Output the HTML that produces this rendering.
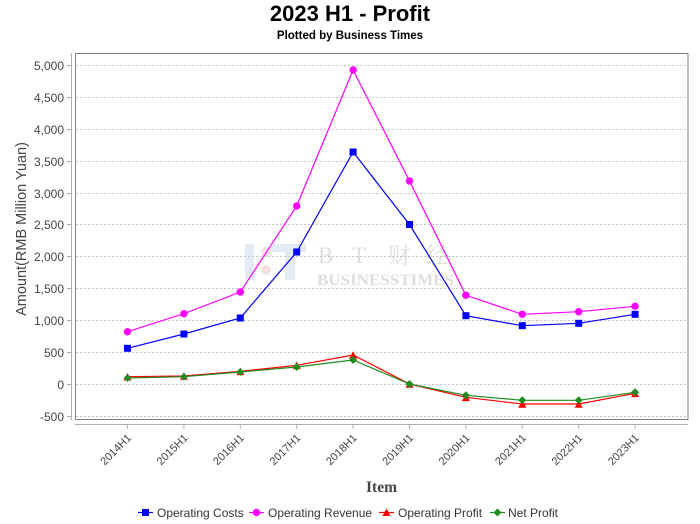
<!DOCTYPE html>
<html><head><meta charset="utf-8"><style>
html,body{margin:0;padding:0;background:#fff;}
svg{display:block;}
</style></head><body>
<svg width="700" height="524" viewBox="0 0 700 524" xmlns="http://www.w3.org/2000/svg">
<rect x="0" y="0" width="700" height="524" fill="#fff"/>
<!-- titles -->
<text x="350" y="21" text-anchor="middle" font-family="Liberation Sans, sans-serif" font-weight="bold" font-size="22" fill="#000">2023 H1 - Profit</text>
<text x="350" y="39" text-anchor="middle" font-family="Liberation Sans, sans-serif" font-weight="bold" font-size="11.5" fill="#000">Plotted by Business Times</text>

<!-- watermark -->
<g>
<rect x="245" y="244" width="9" height="36" fill="#e4ebf4"/>
<circle cx="266" cy="252" r="5" fill="#f7e2e2"/>
<circle cx="266" cy="270" r="5" fill="#f7e2e2"/>
<rect x="272" y="244" width="34" height="8" fill="#e4ebf4"/>
<rect x="285" y="244" width="10" height="36" fill="#e4ebf4"/>
<g font-family="Liberation Serif, 'Noto Serif CJK SC', serif" font-size="23" fill="#dedede">
<text x="318" y="263">B</text>
<text x="352" y="263">T</text>
<text x="388" y="263" font-family="'Noto Serif CJK SC', 'Noto Sans CJK SC', serif">财</text>
<text x="425" y="263" font-family="'Noto Serif CJK SC', 'Noto Sans CJK SC', serif">经</text>
</g>
<text x="317" y="285" font-family="Liberation Serif, serif" font-weight="bold" font-size="16" fill="#dedede" textLength="137" lengthAdjust="spacingAndGlyphs">BUSINESSTIMES</text>
</g>

<!-- gridlines -->
<g stroke="#c4c4c4" stroke-width="1" stroke-dasharray="2,2">
<line x1="76" x2="688" y1="65.5" y2="65.5"/>
<line x1="76" x2="688" y1="97.5" y2="97.5"/>
<line x1="76" x2="688" y1="129.5" y2="129.5"/>
<line x1="76" x2="688" y1="161.5" y2="161.5"/>
<line x1="76" x2="688" y1="193.5" y2="193.5"/>
<line x1="76" x2="688" y1="224.5" y2="224.5"/>
<line x1="76" x2="688" y1="256.5" y2="256.5"/>
<line x1="76" x2="688" y1="288.5" y2="288.5"/>
<line x1="76" x2="688" y1="320.5" y2="320.5"/>
<line x1="76" x2="688" y1="352.5" y2="352.5"/>
<line x1="76" x2="688" y1="384.5" y2="384.5"/>
<line x1="76" x2="688" y1="416.5" y2="416.5"/>
</g>

<!-- plot border -->
<rect x="75.5" y="53.5" width="612.5" height="366" fill="none" stroke="#808080" stroke-width="1"/>

<!-- y axis -->
<line x1="71.5" y1="53" x2="71.5" y2="420" stroke="#b0b0b0" stroke-width="1"/>
<g stroke="#b0b0b0" stroke-width="1">
<line x1="67" x2="71" y1="65.5" y2="65.5"/>
<line x1="67" x2="71" y1="97.5" y2="97.5"/>
<line x1="67" x2="71" y1="129.5" y2="129.5"/>
<line x1="67" x2="71" y1="161.5" y2="161.5"/>
<line x1="67" x2="71" y1="193.5" y2="193.5"/>
<line x1="67" x2="71" y1="224.5" y2="224.5"/>
<line x1="67" x2="71" y1="256.5" y2="256.5"/>
<line x1="67" x2="71" y1="288.5" y2="288.5"/>
<line x1="67" x2="71" y1="320.5" y2="320.5"/>
<line x1="67" x2="71" y1="352.5" y2="352.5"/>
<line x1="67" x2="71" y1="384.5" y2="384.5"/>
<line x1="67" x2="71" y1="416.5" y2="416.5"/>
</g>
<g font-family="Liberation Sans, sans-serif" font-size="12" fill="#444" text-anchor="end">
<text x="64" y="70">5,000</text>
<text x="64" y="102">4,500</text>
<text x="64" y="134">4,000</text>
<text x="64" y="166">3,500</text>
<text x="64" y="198">3,000</text>
<text x="64" y="229">2,500</text>
<text x="64" y="261">2,000</text>
<text x="64" y="293">1,500</text>
<text x="64" y="325">1,000</text>
<text x="64" y="357">500</text>
<text x="64" y="389">0</text>
<text x="64" y="421">-500</text>
</g>
<text transform="translate(26,229) rotate(-90)" text-anchor="middle" font-family="Liberation Sans, sans-serif" font-size="14.5" fill="#444">Amount(RMB Million Yuan)</text>

<!-- x axis -->
<line x1="75" y1="424.5" x2="688" y2="424.5" stroke="#b0b0b0" stroke-width="1"/>
<g stroke="#b0b0b0" stroke-width="1">
<line x1="127.5" x2="127.5" y1="425" y2="429"/>
<line x1="183.9" x2="183.9" y1="425" y2="429"/>
<line x1="240.3" x2="240.3" y1="425" y2="429"/>
<line x1="296.7" x2="296.7" y1="425" y2="429"/>
<line x1="353.1" x2="353.1" y1="425" y2="429"/>
<line x1="409.5" x2="409.5" y1="425" y2="429"/>
<line x1="465.9" x2="465.9" y1="425" y2="429"/>
<line x1="522.3" x2="522.3" y1="425" y2="429"/>
<line x1="578.7" x2="578.7" y1="425" y2="429"/>
<line x1="635.1" x2="635.1" y1="425" y2="429"/>
</g>
<g font-family="Liberation Sans, sans-serif" font-size="11" fill="#444" text-anchor="end">
<text transform="translate(132,438.5) rotate(-45)">2014H1</text>
<text transform="translate(188.4,438.5) rotate(-45)">2015H1</text>
<text transform="translate(244.8,438.5) rotate(-45)">2016H1</text>
<text transform="translate(301.2,438.5) rotate(-45)">2017H1</text>
<text transform="translate(357.6,438.5) rotate(-45)">2018H1</text>
<text transform="translate(414,438.5) rotate(-45)">2019H1</text>
<text transform="translate(470.4,438.5) rotate(-45)">2020H1</text>
<text transform="translate(526.8,438.5) rotate(-45)">2021H1</text>
<text transform="translate(583.2,438.5) rotate(-45)">2022H1</text>
<text transform="translate(639.6,438.5) rotate(-45)">2023H1</text>
</g>
<text x="381.5" y="492" text-anchor="middle" font-family="Liberation Serif, serif" font-weight="bold" font-size="15.5" fill="#444">Item</text>

<!-- series lines -->
<polyline fill="none" stroke="#0000ff" stroke-width="1.2" points="127.5,348.3 183.9,334 240.3,318 296.7,252 353.1,152 409.5,224.5 465.9,315.7 522.3,325.7 578.7,323.3 635.1,314.3"/>
<polyline fill="none" stroke="#ff00ff" stroke-width="1.2" points="127.5,331.7 183.9,313.7 240.3,292 296.7,206 353.1,70 409.5,181 465.9,295.3 522.3,314.3 578.7,311.7 635.1,306.3"/>
<polyline fill="none" stroke="#ff0000" stroke-width="1.2" points="127.5,376.7 183.9,376 240.3,371.3 296.7,365.3 353.1,355 409.5,384 465.9,397.3 522.3,404 578.7,404 635.1,393.3"/>
<polyline fill="none" stroke="#228b22" stroke-width="1.2" points="127.5,378 183.9,376.7 240.3,372 296.7,367 353.1,360 409.5,384 465.9,395.3 522.3,400.3 578.7,400.3 635.1,392.3"/>

<!-- markers: costs squares -->
<g fill="#0000ff">
<rect x="124" y="344.8" width="7" height="7"/>
<rect x="180.4" y="330.5" width="7" height="7"/>
<rect x="236.8" y="314.5" width="7" height="7"/>
<rect x="293.2" y="248.5" width="7" height="7"/>
<rect x="349.6" y="148.5" width="7" height="7"/>
<rect x="406" y="221" width="7" height="7"/>
<rect x="462.4" y="312.2" width="7" height="7"/>
<rect x="518.8" y="322.2" width="7" height="7"/>
<rect x="575.2" y="319.8" width="7" height="7"/>
<rect x="631.6" y="310.8" width="7" height="7"/>
</g>
<!-- revenue circles -->
<g fill="#ff00ff">
<circle cx="127.5" cy="331.7" r="3.7"/>
<circle cx="183.9" cy="313.7" r="3.7"/>
<circle cx="240.3" cy="292" r="3.7"/>
<circle cx="296.7" cy="206" r="3.7"/>
<circle cx="353.1" cy="70" r="3.7"/>
<circle cx="409.5" cy="181" r="3.7"/>
<circle cx="465.9" cy="295.3" r="3.7"/>
<circle cx="522.3" cy="314.3" r="3.7"/>
<circle cx="578.7" cy="311.7" r="3.7"/>
<circle cx="635.1" cy="306.3" r="3.7"/>
</g>
<!-- op profit triangles -->
<g fill="#ff0000">
<polygon points="127.5,373 131.5,380.5 123.5,380.5"/>
<polygon points="183.9,372.3 187.9,379.8 179.9,379.8"/>
<polygon points="240.3,367.6 244.3,375.1 236.3,375.1"/>
<polygon points="296.7,361.6 300.7,369.1 292.7,369.1"/>
<polygon points="353.1,351.3 357.1,358.8 349.1,358.8"/>
<polygon points="409.5,380.3 413.5,387.8 405.5,387.8"/>
<polygon points="465.9,393.6 469.9,401.1 461.9,401.1"/>
<polygon points="522.3,400.3 526.3,407.8 518.3,407.8"/>
<polygon points="578.7,400.3 582.7,407.8 574.7,407.8"/>
<polygon points="635.1,389.6 639.1,397.1 631.1,397.1"/>
</g>
<!-- net profit diamonds -->
<g fill="#228b22">
<polygon points="127.5,374 131.5,378 127.5,382 123.5,378"/>
<polygon points="183.9,372.7 187.9,376.7 183.9,380.7 179.9,376.7"/>
<polygon points="240.3,368 244.3,372 240.3,376 236.3,372"/>
<polygon points="296.7,363 300.7,367 296.7,371 292.7,367"/>
<polygon points="353.1,356 357.1,360 353.1,364 349.1,360"/>
<polygon points="409.5,380 413.5,384 409.5,388 405.5,384"/>
<polygon points="465.9,391.3 469.9,395.3 465.9,399.3 461.9,395.3"/>
<polygon points="522.3,396.3 526.3,400.3 522.3,404.3 518.3,400.3"/>
<polygon points="578.7,396.3 582.7,400.3 578.7,404.3 574.7,400.3"/>
<polygon points="635.1,388.3 639.1,392.3 635.1,396.3 631.1,392.3"/>
</g>

<!-- legend -->
<g font-family="Liberation Sans, sans-serif" font-size="12" fill="#333">
<line x1="138" y1="512.5" x2="153" y2="512.5" stroke="#0000ff" stroke-width="1.2"/>
<rect x="142" y="509" width="7" height="7" fill="#0000ff"/>
<text x="157" y="517">Operating Costs</text>
<line x1="249" y1="512.5" x2="264" y2="512.5" stroke="#ff00ff" stroke-width="1.2"/>
<circle cx="256.5" cy="512.5" r="3.7" fill="#ff00ff"/>
<text x="268" y="517">Operating Revenue</text>
<line x1="379" y1="512.5" x2="394" y2="512.5" stroke="#ff0000" stroke-width="1.2"/>
<polygon points="386.5,508.5 390.5,516 382.5,516" fill="#ff0000"/>
<text x="398" y="517">Operating Profit</text>
<line x1="490" y1="512.5" x2="505" y2="512.5" stroke="#228b22" stroke-width="1.2"/>
<polygon points="497.5,508.5 501.5,512.5 497.5,516.5 493.5,512.5" fill="#228b22"/>
<text x="508" y="517">Net Profit</text>
</g>
</svg>
</body></html>
